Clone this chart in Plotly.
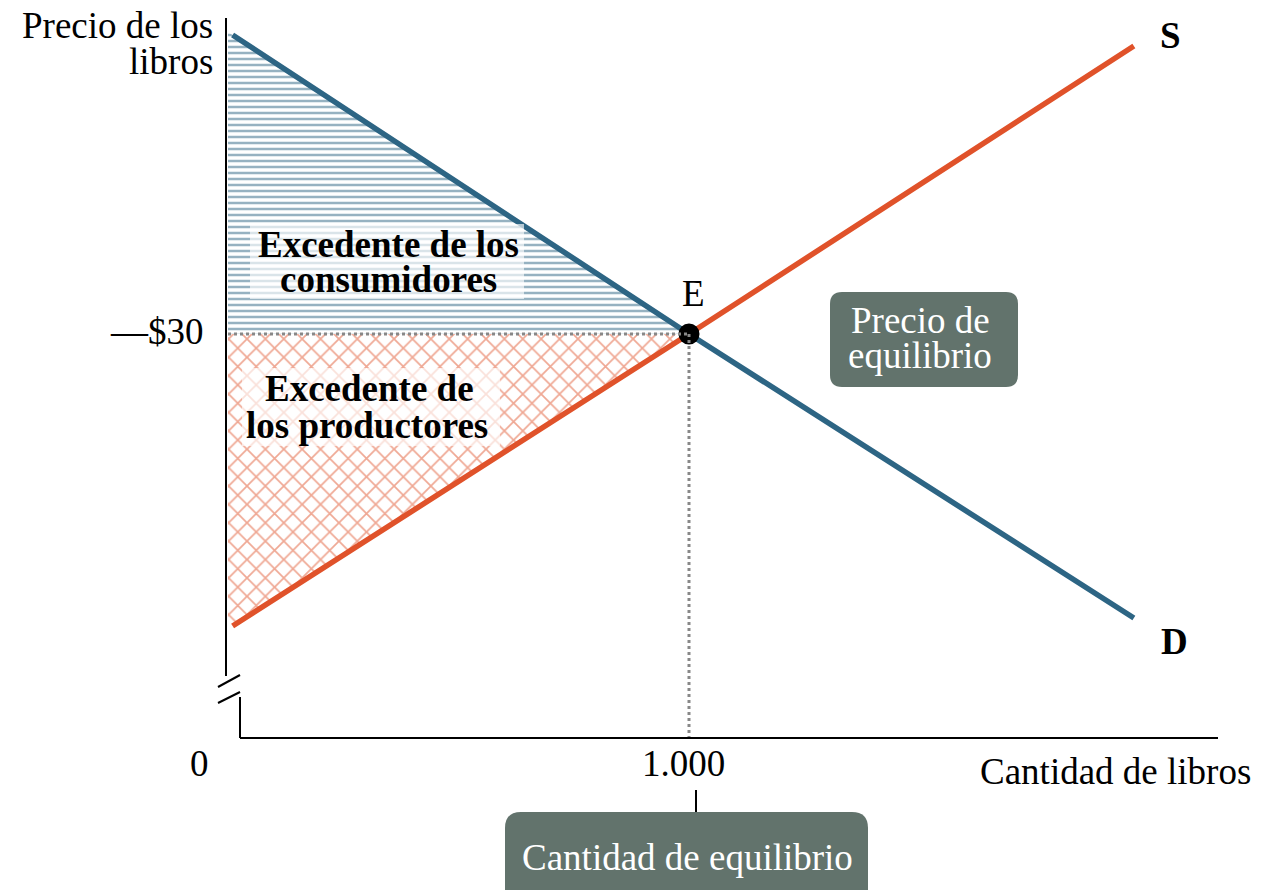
import plotly.graph_objects as go

# ---------------- data ----------------
demand_q = [10, 1000, 1965]
demand_p = [59.9, 30, 1.6]
supply_q = [10, 1000, 1965]
supply_p = [0.8, 30, 58.8]
cs_q = [0, 0, 1000]
cs_p = [60.2, 30, 30]
ps_q = [0, 0, 1000]
ps_p = [0.5, 30, 30]
eq_q = [1000]
eq_p = [30]

BLUE = "#2D6584"
ORANGE = "#E0522A"
BOXC = "#62736C"
FONT = "Liberation Serif"

W, H = 1268, 890
OFF = 8       # page body margin
PXU = 0.461   # px per unit quantity
PYU = 10.0    # px per $ price
X0PX, Y30PX = 228, 334


def qx(px):
    return (px - X0PX) / PXU


def pp(py):
    return 30 - (py - Y30PX) / PYU


xr = [qx(OFF), qx(W + OFF)]
yr = [pp(H + OFF), pp(OFF)]

fig = go.Figure()

# surplus areas
fig.add_trace(go.Scatter(x=cs_q, y=cs_p, fill="toself", mode="none",
                         fillcolor="rgba(255,255,255,0)",
                         fillpattern=dict(shape="-", fgcolor=BLUE, bgcolor="white",
                                          size=6, solidity=0.42),
                         hoverinfo="skip", showlegend=False))
fig.add_trace(go.Scatter(x=ps_q, y=ps_p, fill="toself", mode="none",
                         fillcolor="rgba(255,255,255,0)",
                         fillpattern=dict(shape="x", fgcolor=ORANGE, bgcolor="white",
                                          size=13, solidity=0.25),
                         hoverinfo="skip", showlegend=False))

# curves
fig.add_trace(go.Scatter(x=demand_q, y=demand_p, mode="lines",
                         line=dict(color=BLUE, width=5.5), showlegend=False))
fig.add_trace(go.Scatter(x=supply_q, y=supply_p, mode="lines",
                         line=dict(color=ORANGE, width=5.5), showlegend=False))

# equilibrium point
fig.add_trace(go.Scatter(x=eq_q, y=eq_p, mode="markers",
                         marker=dict(color="black", size=21), showlegend=False))

# dotted guides
fig.add_trace(go.Scatter(x=[0, eq_q[0]], y=[eq_p[0], eq_p[0]], mode="lines",
                         line=dict(color="#888888", width=3, dash="dot"), showlegend=False))
fig.add_trace(go.Scatter(x=[eq_q[0], eq_q[0]], y=[eq_p[0], pp(738)], mode="lines",
                         line=dict(color="#888888", width=3, dash="dot"), showlegend=False))

shapes = []


def seg(x0, y0, x1, y1, w=2, color="black"):
    shapes.append(dict(type="line", xref="x", yref="y", x0=qx(x0), y0=pp(y0),
                       x1=qx(x1), y1=pp(y1), line=dict(color=color, width=w)))


# axes drawn manually (broken axis)
seg(226, 18, 226, 676)
seg(218, 687, 240, 675)
seg(218, 703, 240, 692)
seg(240, 697, 240, 738)
seg(240, 738, 1218, 738)
seg(696, 790, 696, 822)


def rrect(x0, y0, x1, y1, r, color):
    ax0, ax1 = qx(x0), qx(x1)
    ay0, ay1 = pp(y0), pp(y1)
    rx, ry = r / PXU, r / PYU
    path = (f"M {ax0+rx},{ay0} L {ax1-rx},{ay0} Q {ax1},{ay0} {ax1},{ay0-ry} "
            f"L {ax1},{ay1+ry} Q {ax1},{ay1} {ax1-rx},{ay1} L {ax0+rx},{ay1} "
            f"Q {ax0},{ay1} {ax0},{ay1+ry} L {ax0},{ay0-ry} Q {ax0},{ay0} {ax0+rx},{ay0} Z")
    shapes.append(dict(type="path", xref="x", yref="y", path=path,
                       fillcolor=color, line=dict(width=0), layer="above"))


rrect(830, 292, 1018, 387, 12, BOXC)
rrect(505, 812, 868, 910, 16, BOXC)

# light backgrounds behind surplus labels
shapes.append(dict(type="rect", xref="x", yref="y", x0=qx(250), x1=qx(524), y0=pp(224), y1=pp(299),
                   fillcolor="rgba(255,255,255,0.65)", line=dict(width=0), layer="above"))
shapes.append(dict(type="rect", xref="x", yref="y", x0=qx(242), x1=qx(500), y0=pp(368), y1=pp(446),
                   fillcolor="rgba(255,255,255,0.65)", line=dict(width=0), layer="above"))

annotations = []


def txt(s, px, py, size=37, color="black", bold=False, xanchor="center"):
    if bold:
        s = f"<b>{s}</b>"
    annotations.append(dict(text=s, x=qx(px), y=pp(py), xref="x", yref="y",
                            showarrow=False, xanchor=xanchor, yanchor="middle",
                            borderpad=0,
                            font=dict(family=FONT, size=size, color=color)))


txt("Precio de los", 214, 25, xanchor="right")
txt("libros", 214, 61, xanchor="right")
txt("Cantidad de libros", 1252, 771, xanchor="right")
txt("0", 199, 763)
txt("1.000", 683, 763)
txt("—$30", 205, 331, xanchor="right")
txt("E", 693, 293)
txt("S", 1170, 35, bold=True)
txt("D", 1174, 641, bold=True)
txt("Excedente de los", 388, 244, bold=True)
txt("consumidores", 388, 279, bold=True)
txt("Excedente de", 369, 388, bold=True)
txt("los productores", 367, 425, bold=True)
txt("Precio de", 920, 320, color="white")
txt("equilibrio", 920, 355, color="white")
txt("Cantidad de equilibrio", 687, 857, color="white")

fig.update_layout(
    width=W, height=H,
    margin=dict(l=0, r=0, t=0, b=0),
    paper_bgcolor="white", plot_bgcolor="white",
    xaxis=dict(range=xr, visible=False, fixedrange=True),
    yaxis=dict(range=yr, visible=False, fixedrange=True),
    shapes=shapes, annotations=annotations,
    showlegend=False,
)

fig.write_html("out.html")
